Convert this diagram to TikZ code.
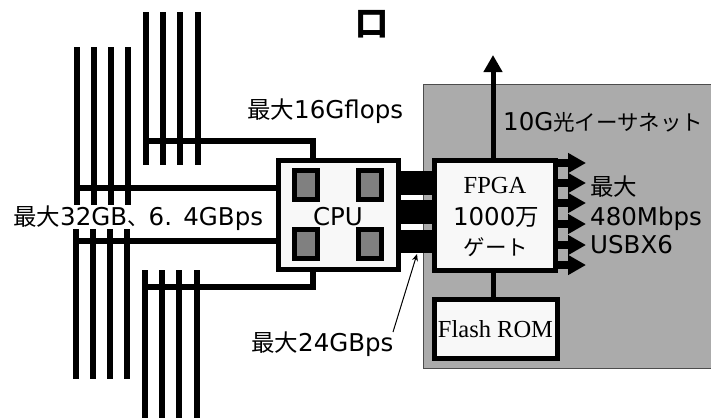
\documentclass[tikz,border=0pt]{standalone}
\usepackage{fontspec}
\setmainfont{Liberation Serif}
\newfontfamily\jp{Noto Sans CJK JP}
\newfontfamily\latn{DejaVu Sans}
\newcommand{\LT}[1]{{\latn\fontsize{24.5}{26}\selectfont #1}}
\newcommand{\KN}[1]{{\jp\fontsize{21.5}{26}\selectfont #1}}
\definecolor{panelgray}{HTML}{ABABAB}
\definecolor{chipgray}{HTML}{808080}
\definecolor{boxwhite}{HTML}{F8F8F8}
\usetikzlibrary{arrows.meta,calc}
\tikzset{
  box/.style={draw=black,fill=boxwhite,line width=5pt,inner sep=0pt},
  chip/.style={draw=black,fill=chipgray,line width=5pt,inner sep=0pt,minimum width=23pt,minimum height=29pt},
  bus/.style={draw=black,line width=6pt},
  link/.style={draw=black,line width=5pt},
  bar/.style={fill=black,draw=none,inner sep=0pt,minimum width=31pt},
  lbl/.style={font=\jp\fontsize{23.5}{26}\selectfont,inner sep=0pt,text=black},
  serif/.style={font=\fontsize{24.5}{26}\selectfont,inner sep=0pt},
  usbout/.style={-{Triangle[length=18pt,width=19pt]},draw=black,line width=8pt},
  upout/.style={-{Triangle[length=17pt,width=18pt]},draw=black,line width=5pt},
  pointer/.style={-{Stealth[length=7pt,width=6pt]},draw=black,line width=1pt}
}
\begin{document}
\begin{tikzpicture}[x=1pt,y=-1pt]
\useasboundingbox (0,0) rectangle (711,418);
% panel
\node[draw=black!70,line width=.6pt,fill=panelgray,minimum width=288pt,minimum height=284pt,inner sep=0pt] (panel) at (567,226) {};
% memory groups
\foreach \x in {146,163,180,198} \draw[bus] (\x,12) -- (\x,165);
\foreach \x in {77,94,111,128} \draw[bus] (\x,47) -- (\x,205);
\foreach \x in {76,93,110,127} \draw[bus] (\x,229) -- (\x,379);
\foreach \x in {145,162,179,197} \draw[bus] (\x,270) -- (\x,418);
% cpu
\node[box,minimum width=120pt,minimum height=109pt] (cpu) at (338.5,215) {};
\node[chip] (c1) at (306,185) {};
\node[chip] (c2) at (370,185) {};
\node[chip] (c3) at (306,244) {};
\node[chip] (c4) at (370,244) {};
\node[lbl,anchor=base] (cpulabel) at (338,225) {\LT{CPU}};
% buses to cpu
\coordinate (b1) at (143,141);
\coordinate (b1c) at (312.5,141);
\coordinate (b2) at (74,188);
\coordinate (b3) at (73,241);
\coordinate (b4) at (142,287);
\coordinate (b4c) at (312.5,287);
\draw[bus] (b1) -- (b1c) -- (b1c |- cpu.north);
\draw[bus] (b2) -- (b2 -| cpu.west);
\draw[bus] (b3) -- (b3 -| cpu.west);
\draw[bus] (b4) -- (b4c) -- (b4c |- cpu.south);
% fpga and rom
\node[box,minimum width=120.5pt,minimum height=110pt] (fpga) at (494.75,215) {};
\node[box,line width=5.5pt,minimum width=123pt,minimum height=59pt] (rom) at (496,329) {};
\node[serif] (romlabel) at (495.5,329) {Flash ROM};
\draw[link] (fpga.south -| 493,0) -- (rom.north -| 493,0);
% cpu-fpga bars
\node[bar,minimum height=24pt] (b_a) at (416.5,183) {};
\node[bar,minimum height=24pt] (b_b) at (416.5,212) {};
\node[bar,minimum height=23pt] (b_c) at (416.5,241.5) {};
% fpga text
\node[serif] (fpgat) at (495,186) {FPGA};
\node[lbl,anchor=base] (fpgam) at (496,225) {\LT{1000}万};
\node[lbl] (fpgag) at (496,247) {\KN{ゲート}};
% up arrow
\coordinate (upend) at (493,55);
\draw[upout] (fpga.north -| upend) -- (upend);
% usb arrows
\foreach \n/\y in {1/163,2/183,3/203,4/224,5/245,6/265}{
  \coordinate (u\n) at (586,\y);
  \draw[usbout] (u\n -| fpga.east) -- (u\n);
}
% labels
\node[font=\jp\bfseries\fontsize{33}{33}\selectfont,inner sep=0pt] (top) at (372,24) {口};
\node[lbl,anchor=base west] (l16) at (247,118) {最大\LT{16Gflops}};
\node[lbl,anchor=base west] (l32) at (13,225) {最大\LT{32GB}\KN{、}\LT{6.\hspace{1pt} 4GBps}};
\node[lbl,anchor=base west] (l24) at (251,351) {最大\LT{24GBps}};
\node[lbl,anchor=base west] (leth) at (503,130) {\LT{10G}\KN{光イーサネット}};
\node[lbl,anchor=base west] (lmax) at (590,195) {最大};
\node[lbl,anchor=base west] (l480) at (590,225) {\LT{480Mbps}};
\node[lbl,anchor=base west] (lusb) at (590,253) {\LT{USBX6}};
\coordinate (ptail) at (393,332);
\draw[pointer] (ptail) -- (417,254);
\end{tikzpicture}
\end{document}
